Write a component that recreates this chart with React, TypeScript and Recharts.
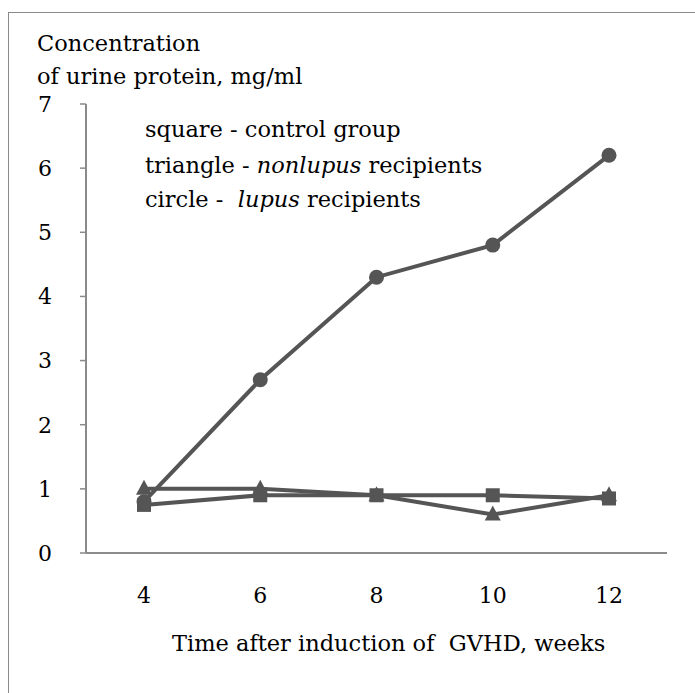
import { LineChart, Line, XAxis, YAxis } from 'recharts';

const weeks = ['4', '6', '8', '10', '12'];
const controlGroup = [0.75, 0.9, 0.9, 0.9, 0.85];
const nonlupusRecipients = [1.0, 1.0, 0.9, 0.6, 0.9];
const lupusRecipients = [0.8, 2.7, 4.3, 4.8, 6.2];
const yTicks = [0, 1, 2, 3, 4, 5, 6, 7];

const data = weeks.map((w, i) => ({
    week: w,
    control: controlGroup[i],
    nonlupus: nonlupusRecipients[i],
    lupus: lupusRecipients[i],
}));

const ink = '#555555';
const font = '"DejaVu Serif", serif';

const Square = (props: any) => {
    const { cx, cy, index } = props;
    return <rect key={`sq-${index}`} x={cx - 7} y={cy - 7} width={14} height={14} fill={ink} />;
};

const Triangle = (props: any) => {
    const { cx, cy, index } = props;
    return (
        <polygon
            key={`tr-${index}`}
            points={`${cx},${cy - 9} ${cx - 8},${cy + 6} ${cx + 8},${cy + 6}`}
            fill={ink}
        />
    );
};

const Circle = (props: any) => {
    const { cx, cy, index } = props;
    return <circle key={`ci-${index}`} cx={cx} cy={cy} r={7.5} fill={ink} />;
};

const textStyle: React.CSSProperties = {
    position: 'absolute',
    fontFamily: font,
    fontSize: 22.5,
    color: '#000',
    whiteSpace: 'pre',
    lineHeight: '26px',
};

export default function App() {
    return (
        <div style={{ position: 'fixed', left: 0, top: 0, width: 695, height: 693, background: '#fff', overflow: 'hidden' }}>
            <div style={{ position: 'absolute', left: 8, top: 12, width: 720, height: 720, border: '1.5px solid #8a8a8a' }} />
            <div style={{ position: 'absolute', left: 0, top: 0 }}>
                <LineChart width={695} height={693} data={data} margin={{ top: 104, right: 28, bottom: 110, left: 0 }}>
                    <XAxis
                        dataKey="week"
                        height={30}
                        padding={{ left: 58, right: 58 }}
                        tickLine={false}
                        axisLine={{ stroke: '#666', strokeWidth: 1.5 }}
                        tick={{ fill: '#000', fontSize: 22, fontFamily: font }}
                        tickMargin={28}
                    />
                    <YAxis
                        width={86}
                        domain={[0, 7]}
                        ticks={yTicks}
                        interval={0}
                        tickSize={6}
                        tickLine={{ stroke: '#8a8a8a', strokeWidth: 1.5 }}
                        axisLine={{ stroke: '#8a8a8a', strokeWidth: 2 }}
                        tick={{ fill: '#000', fontSize: 22, fontFamily: font }}
                        tickMargin={28}
                    />
                    <Line
                        dataKey="lupus"
                        stroke={ink}
                        strokeWidth={4}
                        dot={Circle}
                        activeDot={false}
                        isAnimationActive={false}
                    />
                    <Line
                        dataKey="nonlupus"
                        stroke={ink}
                        strokeWidth={4}
                        dot={Triangle}
                        activeDot={false}
                        isAnimationActive={false}
                    />
                    <Line
                        dataKey="control"
                        stroke={ink}
                        strokeWidth={4}
                        dot={Square}
                        activeDot={false}
                        isAnimationActive={false}
                    />
                </LineChart>
            </div>
            <div style={{ ...textStyle, left: 37, top: 30 }}>Concentration</div>
            <div style={{ ...textStyle, left: 37, top: 63 }}>of urine protein, mg/ml</div>
            <div style={{ ...textStyle, left: 145, top: 116 }}>square - control group</div>
            <div style={{ ...textStyle, left: 145, top: 152 }}>
                triangle - <i>nonlupus</i> recipients
            </div>
            <div style={{ ...textStyle, left: 145, top: 186 }}>
                {'circle -  '}<i>lupus</i> recipients
            </div>
            <div style={{ ...textStyle, left: 172, top: 630 }}>Time after induction of  GVHD, weeks</div>
        </div>
    );
}
